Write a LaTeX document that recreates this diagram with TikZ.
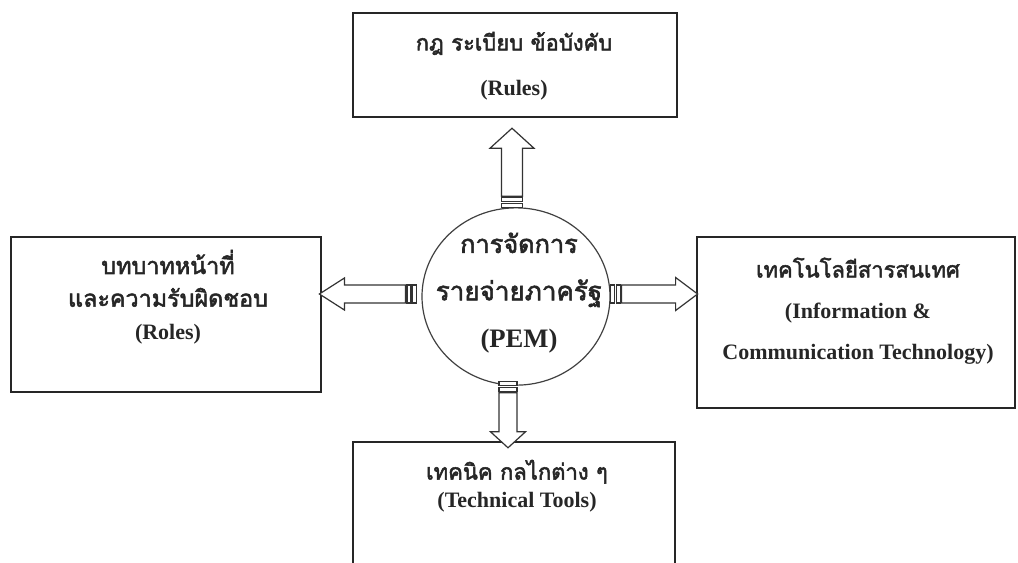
\documentclass[tikz,border=0pt]{standalone}
\usepackage{fontspec}
\setmainfont{Liberation Serif}
\newfontfamily\thaifont[Script=Thai, BoldFont={Loma}, BoldFeatures={FakeBold=2.2}]{Loma}
\usetikzlibrary{shapes.geometric,calc}

\tikzset{
  box/.style={draw=black!85, line width=1.5pt, rectangle, inner sep=0pt},
  hub/.style={draw=black!75, line width=0.9pt, ellipse, inner sep=0pt,
    minimum width=141pt, minimum height=133pt},
  label/.style={align=center, text=black!85, inner sep=0pt},
  arrowline/.style={draw=black!80, line width=0.9pt, fill=white, line join=miter},
  % block arrow with two stripes at its tail; local units are pixels, pointing along +x
  % #1 length, #2 head length, #3 head half-width, #4 shaft half-width
  pics/striparrow/.style n args={4}{code={
    \draw[arrowline] (11,-#4) -- ({#1-#2},-#4) -- ({#1-#2},-#3) -- (#1,0)
      -- ({#1-#2},#3) -- ({#1-#2},#4) -- (11,#4) -- cycle;
    \draw[arrowline] (0,-#4) rectangle (4,#4);
    \draw[arrowline] (5.5,-#4) rectangle (9.5,#4);
  }}
}

\begin{document}
\begin{tikzpicture}[x=0.75pt, y=-0.75pt]
\useasboundingbox (0,0) rectangle (1018,562);
\clip (0,0) rectangle (1018,562);

% boxes
\node[box, minimum width=243pt, minimum height=78pt] (rules) at (515,65) {};
\node[box, minimum width=232.5pt, minimum height=116pt] (roles) at (166,314.5) {};
\node[box, minimum width=238.5pt, minimum height=128pt] (ict) at (856,322.5) {};
\node[box, minimum width=241.5pt, minimum height=120pt] (tools) at (514,522) {};

% centre
\node[hub] (pem) at (516,296.5) {};

% texts
\node[label, font=\bfseries\fontsize{16.5}{33.75}\selectfont] (rulestext) at (514,66)
  {{\thaifont กฎ ระเบียบ ข้อบังคับ}\\(Rules)};
\node[label, font=\bfseries\fontsize{16.5}{24.5}\selectfont] (rolestext) at (168,297)
  {{\thaifont\fontsize{17.5}{24.5}\selectfont บทบาทหน้าที่}\\{\thaifont\fontsize{17.5}{24.5}\selectfont และความรับผิดชอบ}\\(Roles)};
\node[label, font=\bfseries\fontsize{16.5}{30.75}\selectfont] (icttext) at (858,311)
  {{\thaifont เทคโนโลยีสารสนเทศ}\\(Information \&\\Communication Technology)};
\node[label, font=\bfseries\fontsize{16.5}{21}\selectfont] (toolstext) at (517,486)
  {{\thaifont เทคนิค กลไกต่าง ๆ}\\(Technical Tools)};
\node[label, font=\bfseries\fontsize{20}{35.5}\selectfont] (pemtext) at (519,293)
  {{\thaifont\fontsize{19}{35.5}\selectfont การจัดการ}\\{\thaifont\fontsize{19.5}{35.5}\selectfont รายจ่ายภาครัฐ}\\(PEM)};

% striped arrows from the centre to each box
\pic[rotate=90] at ($(pem.north)+(-4,0)$) {striparrow={79}{20}{22}{10.5}};
\pic[rotate=180] at ($(pem.west)+(-5,-2.5)$) {striparrow={97}{25}{16}{9}};
\pic at ($(pem.east)+(0,-2.5)$) {striparrow={87}{22}{16.5}{9}};
\pic[rotate=-90] at ($(pem.south)+(-8,-4)$) {striparrow={66}{16}{17.5}{9}};
\end{tikzpicture}
\end{document}
